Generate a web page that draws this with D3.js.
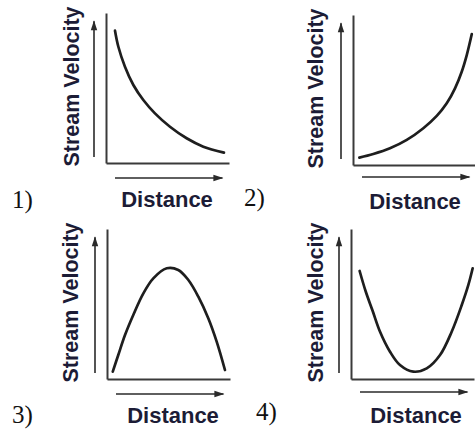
<!DOCTYPE html>
<html>
<head>
<meta charset="utf-8">
<script src="https://cdn.jsdelivr.net/npm/d3@7"></script>
<style>
  html, body { margin: 0; padding: 0; background: #fff; }
  svg { display: block; }
  .lbl { font-family: "Liberation Sans", Arial, sans-serif; font-weight: bold; fill: #1c1c36; }
  .num { font-family: "Liberation Serif", "Times New Roman", serif; fill: #111; }
</style>
</head>
<body>
<svg width="475" height="433"></svg>
<script>
// values, distance (x) vs stream velocity (y), both 0..10
var yLabel = "Stream Velocity",
    xLabel = "Distance",
    names = ["1)", "2)", "3)", "4)"];

var curve1 = [[0.75, 8.82], [1.03, 7.75], [1.58, 6.42], [2.28, 5.2], [3.11, 4.2], [4.08, 3.31],
              [5.33, 2.42], [6.72, 1.65], [8.11, 1.09], [9.83, 0.69]];
var curve2 = [[0.53, 0.49], [1.69, 0.73], [3.08, 1.11], [4.48, 1.67], [5.86, 2.45], [6.98, 3.27],
              [7.81, 4.11], [8.5, 5.11], [9.06, 6.22], [9.48, 7.33], [9.9, 8.73]];
var curve3 = [[0.48, 0.49], [0.94, 1.6], [1.5, 2.93], [2.19, 4.27], [3.03, 5.71], [3.86, 6.71],
              [4.98, 7.38], [5.94, 7.27], [6.78, 6.6], [7.61, 5.49], [8.44, 4.05], [9.14, 2.49], [9.83, 0.6]];
var curve4 = [[0.72, 7.2], [1.22, 5.85], [1.8, 4.55], [2.42, 3.15], [3.25, 1.82], [4.08, 0.93],
              [5.19, 0.49], [6.31, 0.71], [7.42, 1.6], [8.39, 3.15], [9.23, 4.93], [9.78, 6.27], [10.14, 7.38]];

var curves = [curve1, curve2, curve3, curve4];

var svg = d3.select("svg");

// where each little plot's corner sits, plus small nudges for the guide arrows and labels
var panels = [
  {cx: 106, cy: 163, gap: 15, ylx: -27, dist: 61, numx: 12, numy: 208},
  {cx: 353, cy: 165, gap: 12, ylx: -30, dist: 62, numx: 244, numy: 206},
  {cx: 107, cy: 379, gap: 15, ylx: -29, dist: 66, numx: 12, numy: 423},
  {cx: 351, cy: 379, gap: 13, ylx: -28, dist: 65, numx: 256, numy: 420}
];

var x = d3.scaleLinear().domain([0, 10.25]).range([0, 123]),
    y = d3.scaleLinear().domain([0, 10]).range([150, 0]);

var line = d3.line()
    .curve(d3.curveCatmullRom)
    .x(function(d) { return x(d[0]); })
    .y(function(d) { return y(d[1]); });

svg.append("defs").append("marker")
    .attr("id", "head")
    .attr("viewBox", "0 -4 10 8")
    .attr("refX", 9)
    .attr("refY", 0)
    .attr("markerUnits", "userSpaceOnUse")
    .attr("markerWidth", 11)
    .attr("markerHeight", 8)
    .attr("orient", "auto")
  .append("path")
    .attr("d", "M0,-3.2L10,0L0,3.2Z")
    .attr("fill", "#2a2a2a");

panels.forEach(function(p, i) {
  var g = svg.append("g")
      .attr("transform", "translate(" + p.cx + "," + (p.cy - 150) + ")");

  g.append("g")
      .attr("transform", "translate(0,150)")
      .call(d3.axisBottom(x).tickValues([]).tickSizeOuter(0))
      .select(".domain").attr("stroke", "#3a3a3a").attr("stroke-width", 2);

  g.append("g")
      .call(d3.axisLeft(y).tickValues([]).tickSizeOuter(0))
      .select(".domain").attr("stroke", "#3a3a3a").attr("stroke-width", 2);

  // guide arrows beside the axes
  g.append("line")
      .attr("x1", -12).attr("x2", -12)
      .attr("y1", y(0.4)).attr("y2", y(9.45))
      .attr("stroke", "#2a2a2a").attr("stroke-width", 1.6)
      .attr("marker-end", "url(#head)");

  g.append("line")
      .attr("x1", x(0.75)).attr("x2", x(9.7))
      .attr("y1", 150 + p.gap).attr("y2", 150 + p.gap)
      .attr("stroke", "#2a2a2a").attr("stroke-width", 1.6)
      .attr("marker-end", "url(#head)");

  g.append("path")
      .datum(curves[i])
      .attr("fill", "none")
      .attr("stroke", "#1e1e1e")
      .attr("stroke-width", 2.7)
      .attr("stroke-linecap", "round")
      .attr("d", line);

  g.append("text")
      .attr("class", "lbl")
      .attr("transform", "translate(" + p.ylx + "," + y(5.1) + ") rotate(-90)")
      .attr("text-anchor", "middle")
      .style("font-size", "21.5px")
      .text(yLabel);

  g.append("text")
      .attr("class", "lbl")
      .attr("x", p.dist)
      .attr("y", 194)
      .attr("text-anchor", "middle")
      .style("font-size", "22px")
      .text(xLabel);

  svg.append("text")
      .attr("class", "num")
      .attr("x", p.numx)
      .attr("y", p.numy)
      .style("font-size", "25px")
      .text(names[i]);
});
</script>
</body>
</html>
